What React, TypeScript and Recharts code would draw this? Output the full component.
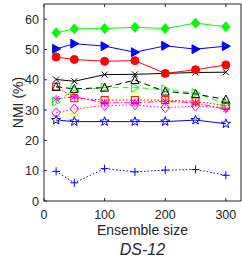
import React from "react";
import { LineChart, Line, XAxis, YAxis } from "recharts";

const sizes = [20, 50, 100, 150, 200, 250, 300];
const greenDiamond = [55.5, 56.8, 56.9, 57.3, 56.9, 58.7, 57.5];
const blueTriRight = [50.2, 51.9, 51.1, 49.1, 51.2, 50.1, 51.1];
const redCircle = [47.5, 46.7, 46.1, 46.3, 42.1, 43.3, 44.9];
const blackCross = [40.1, 39.5, 41.7, 41.8, 42.1, 42.4, 42.5];
const blackTriUp = [37.7, 37.0, 37.4, 39.9, 36.1, 35.3, 33.5];
const greenTriRight = [32.8, 36.6, 37.4, 37.4, 36.8, 35.6, 32.2];
const redSquare = [37.7, 33.9, 33.3, 33.3, 33.3, 32.9, 31.5];
const magentaStar = [33.7, 34.4, 32.4, 32.4, 32.9, 32.4, 30.2];
const yellowCircle = [26.9, 29.1, 32.9, 34.6, 32.6, 32.6, 31.3];
const magentaDiamond = [29.1, 30.4, 31.5, 31.7, 30.8, 31.3, 30.9];
const blueStar = [26.7, 26.2, 26.2, 26.2, 26.2, 26.7, 25.5];
const bluePlus = [9.8, 6.0, 10.7, 9.6, 10.2, 10.4, 8.5];

const xTicks = [0, 100, 200, 300];
const yTicks = [0, 10, 20, 30, 40, 50, 60];

const data = sizes.map((s, i) => ({
  size: s,
  gd: greenDiamond[i],
  bt: blueTriRight[i],
  rc: redCircle[i],
  bx: blackCross[i],
  ku: blackTriUp[i],
  gt: greenTriRight[i],
  rs: redSquare[i],
  ms: magentaStar[i],
  yc: yellowCircle[i],
  md: magentaDiamond[i],
  st: blueStar[i],
  bp: bluePlus[i],
}));

const AX = "#262626";
const FONT = "'Liberation Sans', Arial, Helvetica, sans-serif";

// marker renderer, MATLAB-ish shapes
function marker(kind: string, color: string, filled: boolean) {
  return (props: any) => {
    const { cx, cy, index } = props;
    if (cx == null || cy == null) return <g key={index} />;
    const fill = filled ? color : "none";
    const common = { stroke: color, strokeWidth: 1, fill };
    let el: any = null;
    if (kind === "diamond") {
      const w = 4.2, h = 5;
      el = <path d={`M${cx},${cy - h}L${cx + w},${cy}L${cx},${cy + h}L${cx - w},${cy}Z`} {...common} />;
    } else if (kind === "triRight") {
      el = <path d={`M${cx + 4.5},${cy}L${cx - 3.5},${cy - 4.5}L${cx - 3.5},${cy + 4.5}Z`} {...common} />;
    } else if (kind === "triUp") {
      el = <path d={`M${cx},${cy - 4.5}L${cx + 4},${cy + 3.5}L${cx - 4},${cy + 3.5}Z`} {...common} />;
    } else if (kind === "circle") {
      el = <circle cx={cx} cy={cy} r={4} {...common} />;
    } else if (kind === "square") {
      el = <rect x={cx - 3.5} y={cy - 3.5} width={7} height={7} {...common} />;
    } else if (kind === "x") {
      const d = 3;
      el = <path d={`M${cx - d},${cy - d}L${cx + d},${cy + d}M${cx - d},${cy + d}L${cx + d},${cy - d}`} stroke={color} strokeWidth={1} />;
    } else if (kind === "plus") {
      const d = 4;
      el = <path d={`M${cx - d},${cy}L${cx + d},${cy}M${cx},${cy - d}L${cx},${cy + d}`} stroke={color} strokeWidth={1} />;
    } else if (kind === "asterisk") {
      const d = 4, e = 2.8;
      el = <path d={`M${cx - d},${cy}L${cx + d},${cy}M${cx},${cy - d}L${cx},${cy + d}M${cx - e},${cy - e}L${cx + e},${cy + e}M${cx - e},${cy + e}L${cx + e},${cy - e}`} stroke={color} strokeWidth={1} />;
    } else if (kind === "star") {
      const pts: string[] = [];
      for (let k = 0; k < 10; k++) {
        const r = k % 2 === 0 ? 4.8 : 2;
        const a = -Math.PI / 2 + (k * Math.PI) / 5;
        pts.push(`${cx + r * Math.cos(a)},${cy + r * Math.sin(a)}`);
      }
      el = <polygon points={pts.join(" ")} {...common} />;
    }
    return <g key={index}>{el}</g>;
  };
}

const XTick = (props: any) => {
  const { x, y, payload } = props;
  return (
    <g>
      <line x1={x} y1={y} x2={x} y2={y - 3} stroke={AX} />
      <text x={x} y={y + 18} textAnchor="middle" fontSize={12.5} fontFamily={FONT} fill={AX}>
        {payload.value}
      </text>
    </g>
  );
};

const YTick = (props: any) => {
  const { x, y, payload } = props;
  return (
    <g>
      <line x1={x} y1={y} x2={x + 3} y2={y} stroke={AX} />
      <text x={x - 5} y={y + 4.5} textAnchor="end" fontSize={12.5} fontFamily={FONT} fill={AX}>
        {payload.value}
      </text>
    </g>
  );
};

const TopTick = (props: any) => {
  const { x, y } = props;
  return <line x1={x} y1={y} x2={x} y2={y + 3} stroke={AX} />;
};

const RightTick = (props: any) => {
  const { x, y } = props;
  return <line x1={x} y1={y} x2={x - 3} y2={y} stroke={AX} />;
};

const XLabel = (props: any) => {
  const vb = props.viewBox || {};
  const cx = (vb.x ?? 44) + (vb.width ?? 197) / 2;
  const top = vb.y ?? 201;
  return (
    <g>
      <text x={cx} y={top + 33.5} textAnchor="middle" fontSize={14} fontFamily={FONT} fill={AX}>
        Ensemble size
      </text>
      <text x={cx} y={top + 54} textAnchor="middle" fontSize={16} fontStyle="italic" fontFamily={FONT} fill={AX}>
        DS-12
      </text>
    </g>
  );
};

const YLabel = (props: any) => {
  const vb = props.viewBox || {};
  const cy = (vb.y ?? 4) + (vb.height ?? 197) / 2;
  return (
    <text x={22.5} y={cy} transform={`rotate(-90, 22.5, ${cy})`} textAnchor="middle" fontSize={14} fontFamily={FONT} fill={AX}>
      NMI (%)
    </text>
  );
};

export default function App() {
  return (
    <div style={{ width: 242, height: 259, background: "#fff" }}>
      <style>{`body{margin:0}`}</style>
      <LineChart width={242} height={259} data={data} margin={{ top: 0, right: 0, bottom: 0, left: 0 }}>
        <XAxis
          dataKey="size"
          type="number"
          domain={[0, 325]}
          ticks={xTicks}
          height={58}
          tickSize={0}
          tickMargin={0}
          axisLine={{ stroke: AX }}
          tickLine={false}
          tick={<XTick />}
          label={<XLabel />}
        />
        <XAxis
          xAxisId="top"
          orientation="top"
          dataKey="size"
          type="number"
          domain={[0, 325]}
          ticks={xTicks}
          height={4}
          tickSize={0}
          tickMargin={0}
          axisLine={{ stroke: AX }}
          tickLine={false}
          tick={<TopTick />}
        />
        <YAxis
          type="number"
          domain={[0, 65]}
          ticks={yTicks}
          width={44}
          tickSize={0}
          tickMargin={0}
          axisLine={{ stroke: AX }}
          tickLine={false}
          tick={<YTick />}
          label={<YLabel />}
        />
        <YAxis
          yAxisId="right"
          orientation="right"
          type="number"
          domain={[0, 65]}
          ticks={yTicks}
          width={1}
          tickSize={0}
          tickMargin={0}
          axisLine={{ stroke: AX }}
          tickLine={false}
          tick={<RightTick />}
        />
        <Line dataKey="bp" stroke="#0000ff" strokeDasharray="1.5 2" strokeWidth={1} dot={marker("plus", "#0000ff", false)} isAnimationActive={false} />
        <Line dataKey="yc" stroke="#ffff00" strokeDasharray="1.5 2" strokeWidth={1} dot={marker("circle", "#ffff00", false)} isAnimationActive={false} />
        <Line dataKey="st" stroke="#0000ff" strokeWidth={1} dot={marker("star", "#0000ff", false)} isAnimationActive={false} />
        <Line dataKey="md" stroke="#ff00ff" strokeDasharray="1.5 2" strokeWidth={1} dot={marker("diamond", "#ff00ff", false)} isAnimationActive={false} />
        <Line dataKey="ms" stroke="#ff00ff" strokeDasharray="6 2 1.5 2" strokeWidth={1} dot={marker("asterisk", "#ff00ff", false)} isAnimationActive={false} />
        <Line dataKey="rs" stroke="#ff0000" strokeDasharray="1.5 2" strokeWidth={1} dot={marker("square", "#ff0000", false)} isAnimationActive={false} />
        <Line dataKey="gt" stroke="#00ff00" strokeDasharray="6 4" strokeWidth={1} dot={marker("triRight", "#00ff00", false)} isAnimationActive={false} />
        <Line dataKey="ku" stroke="#000000" strokeDasharray="6 4" strokeWidth={1} dot={marker("triUp", "#000000", false)} isAnimationActive={false} />
        <Line dataKey="bx" stroke="#000000" strokeWidth={1} dot={marker("x", "#000000", false)} isAnimationActive={false} />
        <Line dataKey="rc" stroke="#ff0000" strokeWidth={1} dot={marker("circle", "#ff0000", true)} isAnimationActive={false} />
        <Line dataKey="bt" stroke="#0000ff" strokeWidth={1} dot={marker("triRight", "#0000ff", true)} isAnimationActive={false} />
        <Line dataKey="gd" stroke="#00ff00" strokeWidth={1} dot={marker("diamond", "#00ff00", true)} isAnimationActive={false} />
      </LineChart>
    </div>
  );
}
